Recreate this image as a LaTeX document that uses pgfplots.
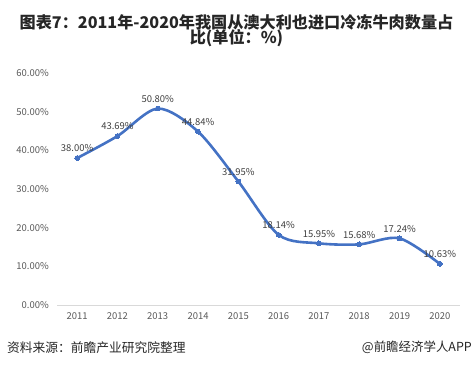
\documentclass[border=0pt]{standalone}
\usepackage{pgfplots}
\pgfplotsset{compat=1.18}
\usepackage{fontspec}
\setmainfont{Noto Sans CJK SC}
\definecolor{lineblue}{RGB}{68,114,196}
\definecolor{ticktext}{RGB}{89,89,89}
\definecolor{labtext}{RGB}{64,64,64}
\definecolor{titletext}{RGB}{38,38,38}
\begin{document}
\begin{tikzpicture}[x=1bp,y=1bp]
\path[use as bounding box] (0,0) rectangle (473,371);
\node[font=\fontsize{16.2}{18}\selectfont\bfseries, text=titletext, inner sep=0pt] at (236.5,349) {图表7：2011年-2020年我国从澳大利也进口冷冻牛肉数量占};
\node[font=\fontsize{16.2}{18}\selectfont\bfseries, text=titletext, inner sep=0pt] at (236.5,333) {比(单位：\%)};
\node[anchor=west, font=\fontsize{12.8}{14}\selectfont, text=titletext, inner sep=0pt] at (7,23.5) {资料来源：前瞻产业研究院整理};
\node[anchor=east, font=\fontsize{12.5}{14}\selectfont, text=titletext, inner sep=0pt] at (472,23.5) {@前瞻经济学人APP};
\begin{axis}[
  at={(57bp,66bp)}, anchor=south west,
  scale only axis, width=403bp, height=232bp,
  xmin=2010.5, xmax=2020.5, ymin=0, ymax=60,
  xtick={2011,2012,...,2020}, ytick={0,10,...,60},
  axis x line*=bottom, axis y line*=left,
  x axis line style={draw=black!15, line width=0.8pt},
  y axis line style={draw=none},
  major tick length=0pt,
  /pgf/number format/assume math mode=true,
  xticklabel style={/pgf/number format/1000 sep=, font=\fontsize{9.5}{11}\selectfont, text=ticktext, inner sep=0pt, yshift=-7.5bp},
  yticklabel={\pgfmathprintnumber[fixed,fixed zerofill,precision=2]{\tick}\%},
  yticklabel style={font=\fontsize{9.5}{11}\selectfont, text=ticktext, inner sep=0pt, xshift=-8bp},
  nodes near coords={\pgfmathprintnumber[fixed,fixed zerofill,precision=2]{\pgfplotspointmeta}\%},
  nodes near coords style={font=\fontsize{9.5}{11}\selectfont, text=labtext, anchor=south, inner sep=0pt, yshift=6bp},
  clip=false,
]
\addplot[color=lineblue, line width=2.6bp, smooth, tension=0.5, mark=*, mark size=2.4bp, mark options={fill=lineblue, draw=lineblue, line width=0pt}] coordinates {
(2011,38.00) (2012,43.69) (2013,50.80) (2014,44.84) (2015,31.95) (2016,18.14) (2017,15.95) (2018,15.68) (2019,17.24) (2020,10.63)
};
\end{axis}
\end{tikzpicture}
\end{document}
